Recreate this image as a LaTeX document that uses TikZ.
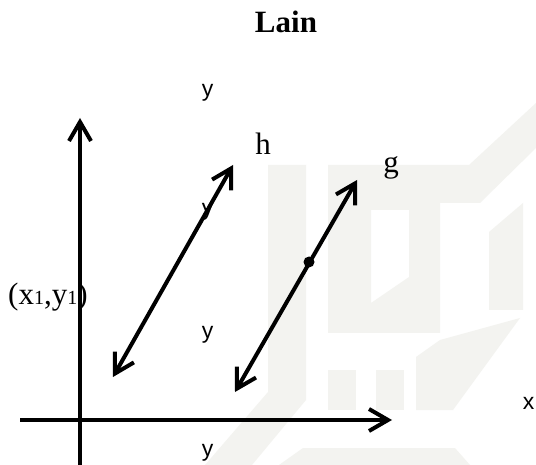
\documentclass[tikz,border=0pt]{standalone}
\usepackage{fontspec}
\setmainfont{Liberation Serif}
\setsansfont{Liberation Sans}
\usetikzlibrary{arrows.meta}
\definecolor{wm}{RGB}{243,243,240}
\definecolor{wmy}{RGB}{251,248,232}
\begin{document}
\begin{tikzpicture}[x=1pt,y=-1pt,
  wmark/.style={fill=wm,draw=none},
  barb/.tip={Straight Barb[length=19pt,width=22pt]},
  axisline/.style={line width=4pt,-barb},
  dblline/.style={line width=4pt,barb-barb},
  seriflabel/.style={font=\fontsize{31}{31}\selectfont,inner sep=0pt,anchor=base},
  sanslabel/.style={font=\sffamily\fontsize{23}{23}\selectfont,inner sep=0pt,anchor=base},
]
\useasboundingbox (0,0) rectangle (536,465);
\fill[white] (0,0) rectangle (536,465);
% faint watermark
\path[wmark] (268,165) -- (306,165) -- (306,400) -- (252,465) -- (205,465) -- (268,392) -- cycle;
\path[wmark,even odd rule] (328,165) -- (469,165) -- (536,103) -- (536,148) -- (480,203) -- (440,203) -- (440,333) -- (328,333) -- cycle
  (371,210) -- (409,210) -- (409,277) -- (371,303) -- cycle;
\path[wmark] (489,232) -- (523,203) -- (523,310) -- (489,310) -- cycle;
\path[wmark] (328,370) rectangle (356,410);
\path[wmark] (376,370) rectangle (404,410);
\path[wmark] (416,410) -- (416,357) -- (440,340) -- (520,318) -- (453,410) -- cycle;
\path[wmark] (279,465) -- (303,448) -- (455,448) -- (470,465) -- cycle;
\foreach \r in {60,70,80,90}{
  \draw[wmy,line width=2pt] (536+\r*0.2,470) ++(180:\r) arc[start angle=180,end angle=110,radius=\r];
}
% title
\node[font=\bfseries\fontsize{31}{31}\selectfont,inner sep=0pt,anchor=base] (title) at (286,33) {Lain};
% axes
\coordinate (ybot) at (80,465);
\coordinate (ytop) at (80,118);
\coordinate (xleft) at (20,420);
\coordinate (xright) at (392,420);
\draw[axisline] (ybot) -- (ytop);
\draw[axisline] (xleft) -- (xright);
% lines h and g
\coordinate (h1) at (113,377);
\coordinate (h2) at (233,165);
\coordinate (g1) at (235,392);
\coordinate (g2) at (357,180);
\draw[dblline] (h1) -- (h2);
\draw[dblline] (g1) -- (g2);
\fill (309,262) circle[radius=5.5pt];
\node[inner sep=0pt,minimum size=11pt] (P) at (309,262) {};
% labels
\node[seriflabel] (hl) at (263,155) {h};
\node[seriflabel] (gl) at (391,173) {g};
\node[seriflabel,anchor=base west] (pt) at (8,305) {(x{\fontsize{20}{20}\selectfont 1},y{\fontsize{20}{20}\selectfont 1})};
\node[sanslabel] (y1) at (207.5,97) {y};
\node[sanslabel] (y2) at (207.5,216) {y};
\node[sanslabel] (y3) at (207.5,338) {y};
\node[sanslabel] (y4) at (207.5,456) {y};
\node[sanslabel] (xl) at (528.5,409.5) {x};
\end{tikzpicture}
\end{document}
